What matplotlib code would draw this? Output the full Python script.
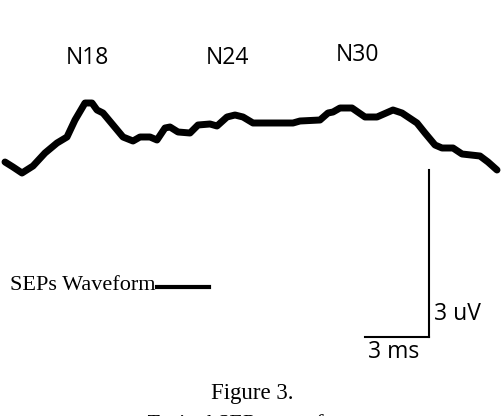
import matplotlib
matplotlib.use("Agg")
import matplotlib.pyplot as plt

# waveform trace (pixel coords, y down)
wave_x = [5, 13, 22, 33, 45, 57, 67, 75, 85, 92, 97, 103, 113, 123, 133, 140, 150,
          157, 165, 170, 178, 190, 198, 210, 217, 227, 235, 243, 253, 293, 300, 320,
          328, 333, 340, 352, 365, 377, 393, 402, 417, 425, 435, 442, 453, 462, 480,
          488, 497]
wave_y = [162, 167, 173, 166, 153, 143, 137, 120, 103, 103, 110, 113, 125, 137, 141,
          137, 137, 140, 128, 127, 132, 133, 125, 124, 126, 117, 115, 117, 123, 123,
          121, 120, 113, 112, 108, 108, 117, 117, 110, 113, 123, 133, 145, 148, 148,
          154, 156, 162, 170]

peak_labels = ["N18", "N24", "N30"]
peak_x = [87, 227, 357]
peak_y = [58, 58, 55]

fig = plt.figure(figsize=(5.04, 4.16), dpi=100)
ax = fig.add_axes([0, 0, 1, 1])
ax.set_xlim(0, 504)
ax.set_ylim(416, 0)
ax.axis("off")

ax.plot(wave_x, wave_y, color="black", lw=5, solid_joinstyle="round",
        solid_capstyle="round")

for lab, x, y in zip(peak_labels, peak_x, peak_y):
    ax.text(x, y, lab, fontsize=16.5, family="Open Sans", ha="center", va="center")

# scale bar
ax.plot([429, 429], [170, 337], color="black", lw=1.5)
ax.plot([365, 429], [337, 337], color="black", lw=1.5)
ax.text(434, 314, "3 uV", fontsize=16.5, family="Open Sans", ha="left", va="center")
ax.text(394, 352, "3 ms", fontsize=16.5, family="Open Sans", ha="center", va="center")

# legend
ax.text(10, 286, "SEPs Waveform", fontsize=16, family="Liberation Serif",
        ha="left", va="center")
ax.plot([157, 209], [287, 287], color="black", lw=3)

# caption
ax.text(252, 394, "Figure 3.", fontsize=16.5, family="Liberation Serif",
        ha="center", va="center")
ax.text(252, 424, "Typical SEPs waveform", fontsize=16, family="Liberation Serif",
        style="italic", ha="center", va="center", clip_on=False)

fig.savefig("out.png", dpi=100)
